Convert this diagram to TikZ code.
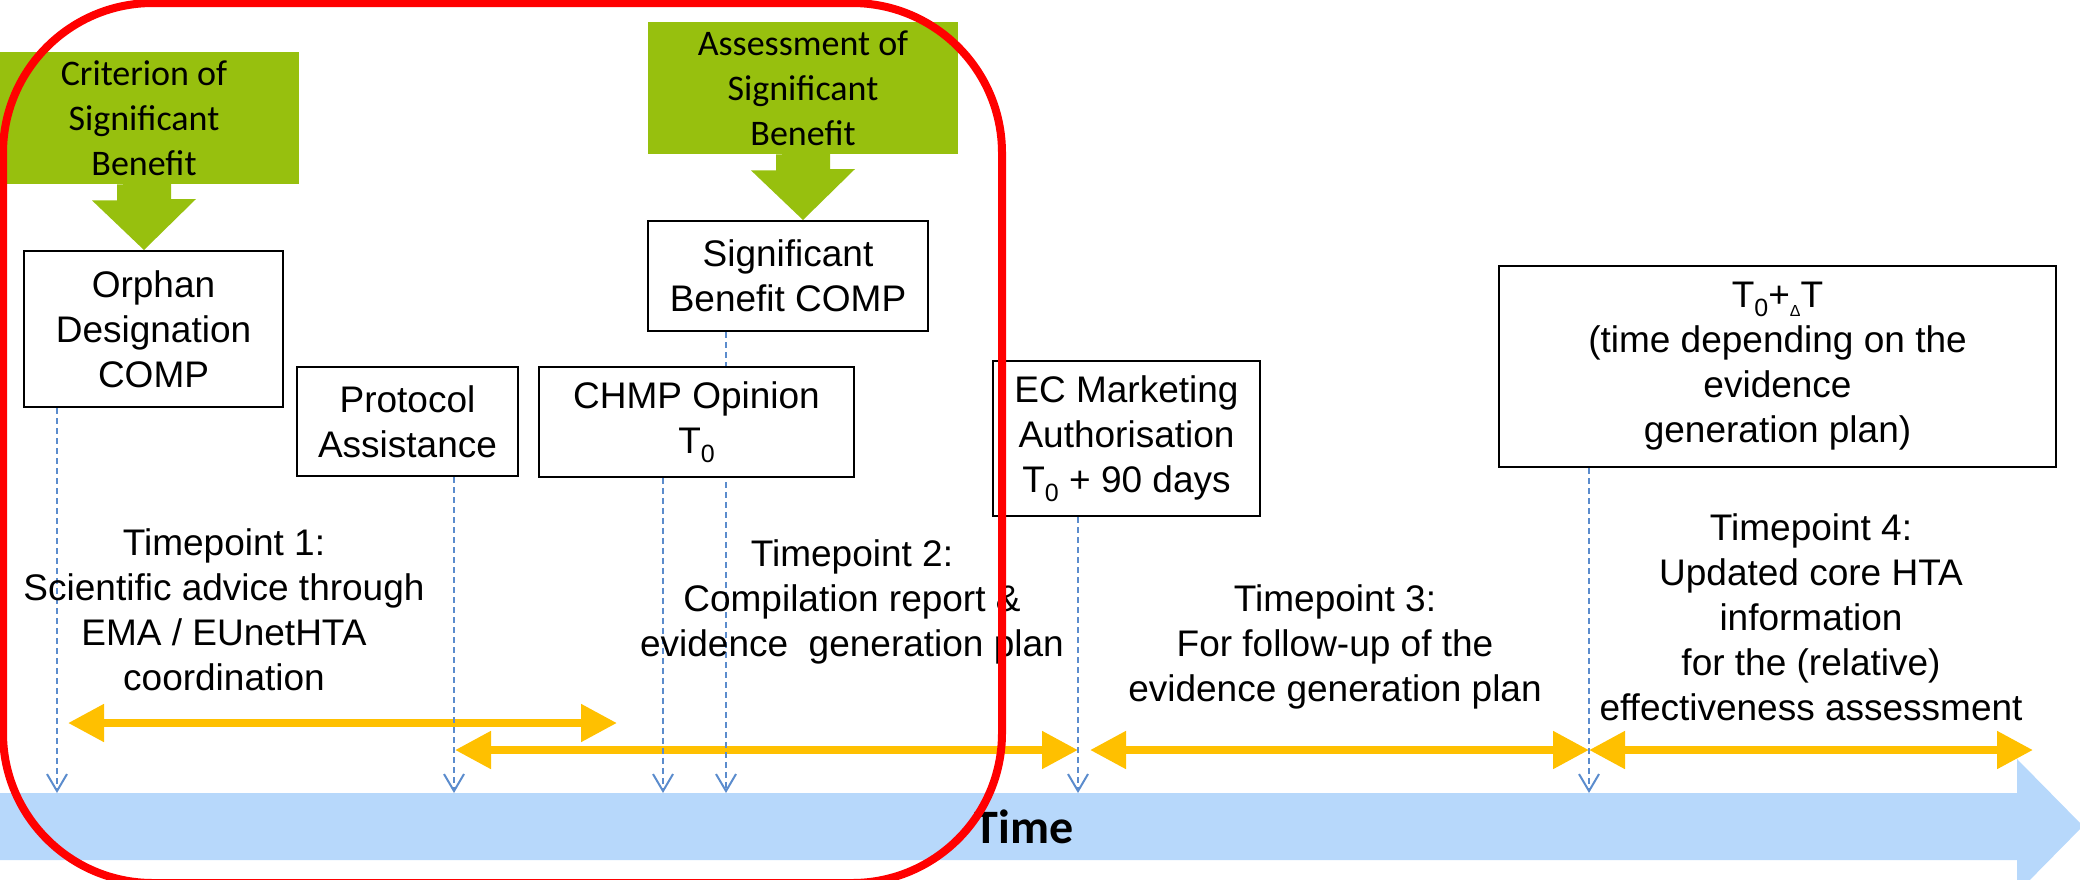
\documentclass[tikz,border=0pt]{standalone}
\usepackage{fontspec}
\setmainfont{Liberation Sans}
\newfontfamily\calibri{Carlito}
\usetikzlibrary{arrows.meta}
\definecolor{leafgreen}{RGB}{151,192,14}
\definecolor{amber}{RGB}{255,192,0}
\definecolor{barblue}{RGB}{183,216,251}
\definecolor{guideblue}{RGB}{91,140,205}
\definecolor{signalred}{RGB}{255,0,0}
% lowered index digits and the small delta sign
\newcommand\lowidx[1]{\raisebox{-4.5pt}{\fontsize{12.5}{14}\selectfont #1}}
\newcommand\smalldelta{\raisebox{-4.5pt}{\fontsize{8}{9}\selectfont Δ}}

\begin{document}
\begin{tikzpicture}[x=0.5pt,y=-0.5pt,
  stagebox/.style={draw=black, line width=1pt, fill=white, align=center, inner sep=0pt,
    font=\fontsize{18.5}{22.5}\selectfont},
  notebox/.style={fill=leafgreen, align=center, inner sep=0pt, minimum width=155pt,
    minimum height=66pt, font=\calibri\fontsize{18}{22.5}\selectfont},
  guide/.style={draw=guideblue, line width=1pt, dash pattern=on 3pt off 2pt,
    -{Straight Barb[length=8.5pt,width=10pt,line width=1pt]}},
  span/.style={draw=amber, line width=4pt,
    {Triangle[length=18pt,width=18pt]}-{Triangle[length=18pt,width=18pt]}},
  phase/.style={align=center, font=\fontsize{18.5}{22.5}\selectfont},
]
\useasboundingbox (0,0) rectangle (2080,879);

% time axis
\fill[barblue] (0,793) -- (2017,793) -- (2017,759) -- (2083,826) -- (2017,893)
  -- (2017,860) -- (0,860) -- cycle;
\coordinate (bartop) at (0,793);
\node[font=\calibri\bfseries\fontsize{24}{28}\selectfont] (timelabel) at (1024,827) {Time};

% guide positions along the axis
\coordinate (x1) at (57,0);
\coordinate (x2) at (454,0);
\coordinate (x3) at (663,0);
\coordinate (x4) at (726,0);
\coordinate (x5) at (1078,0);
\coordinate (x6) at (1589,0);

% benefit criteria
\node[notebox] (g1) at (144,118) {Criterion of\\Significant\\Benefit};
\node[notebox] (g2) at (803,88) {Assessment of\\Significant\\Benefit};

% milestones
\node[stagebox, minimum width=129.5pt, minimum height=78pt] (orph) at (153.5,329)
  {Orphan\\Designation\\COMP};
\node[stagebox, minimum width=140pt, minimum height=55pt] (sbc) at (788,276)
  {Significant\\Benefit COMP};
\node[stagebox, minimum width=110.5pt, minimum height=54.5pt] (prot) at (407.5,421.5)
  {Protocol\\Assistance};
\node[stagebox, minimum width=133.5pt, minimum height=77.5pt] (ecma) at (1126.5,438.5)
  {EC Marketing\\Authorisation\\T\lowidx{0} + 90 days};
\node[stagebox, minimum width=278.5pt, minimum height=100.5pt] (later) at (1777.5,366.5)
  {T\lowidx{0}+\smalldelta T\\(time depending on the\\evidence\\generation plan)};

% green block arrows
\fill[leafgreen] (g1.south) ++(-27,0) -- ++(0,16) -- ++(-25,0) -- (g1.south |- orph.north)
  -- ++(52,-51) -- ++(-25,0) -- ++(0,-16) -- cycle;
\fill[leafgreen] (g2.south) ++(-27,0) -- ++(0,16) -- ++(-25,0) -- (g2.south |- sbc.north)
  -- ++(52,-51) -- ++(-25,0) -- ++(0,-16) -- cycle;

% time spans
\coordinate (s1a) at (68,723);
\coordinate (s1b) at (617,723);
\coordinate (s2a) at (455,750);
\coordinate (s2b) at (1078,750);
\coordinate (s3a) at (1090,750);
\coordinate (s3b) at (1589,750);
\coordinate (s4a) at (1589,750);
\coordinate (s4b) at (2033,750);
\draw[span] (s1a) -- (s1b);
\draw[span] (s2a) -- (s2b);
\draw[span] (s3a) -- (s3b);
\draw[span] (s4a) -- (s4b);

% guide from the significant-benefit review runs behind the CHMP box
\draw[guide] (x4 |- sbc.south) -- (x4 |- bartop);
\node[stagebox, minimum width=157.5pt, minimum height=55pt] (chmp) at (696.5,422)
  {CHMP Opinion\\T\lowidx{0}};

\draw[guide] (x1 |- orph.south) -- (x1 |- bartop);
\draw[guide] (x2 |- prot.south) -- (x2 |- bartop);
\draw[guide] (x3 |- chmp.south) -- (x3 |- bartop);
\draw[guide] (x5 |- ecma.south) -- (x5 |- bartop);
\draw[guide] (x6 |- later.south) -- (x6 |- bartop);

% timepoint descriptions
\node[phase] (tp1) at (224,610) {Timepoint 1:\\Scientific advice through\\EMA / EUnetHTA\\coordination};
\node[phase] (tp2) at (852,602) {Timepoint 2:\\Compilation report \&\\evidence~ generation plan};
\node[phase] (tp3) at (1335,647) {Timepoint 3:\\For follow-up of the\\evidence generation plan};
\node[phase] (tp4) at (1811,617) {Timepoint 4:\\Updated core HTA\\information\\for the (relative)\\effectiveness assessment};

% highlighted early phase
\draw[signalred, line width=4pt, rounded corners=75pt] (3,3) rectangle (1002,883);
\end{tikzpicture}
\end{document}
